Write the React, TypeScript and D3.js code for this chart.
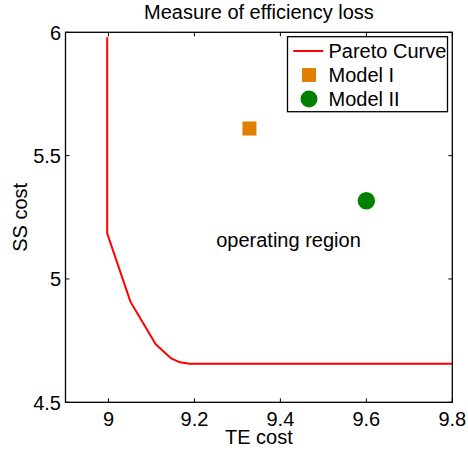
import * as d3 from "d3";

// Pareto curve
const paretoTE = [8.997, 8.997, 9.051, 9.11, 9.146, 9.166, 9.189, 9.8];
const paretoSS = [5.98, 5.185, 4.908, 4.735, 4.678, 4.662, 4.656, 4.656];

// operating points
const modelNames = ["Model I", "Model II"];
const modelTE = [9.328, 9.6];
const modelSS = [5.61, 5.317];

const xTicks = [9, 9.2, 9.4, 9.6, 9.8];
const yTicks = [4.5, 5, 5.5, 6];

const W = 468;
const H = 453;
const font = "'Liberation Sans', Arial, Helvetica, sans-serif";

export default function App() {
  const x = d3.scaleLinear().domain([8.9, 9.8]).range([65.5, 452.3]);
  const y = d3.scaleLinear().domain([4.5, 6]).range([402.3, 32.3]);

  const line = d3
    .line<number>()
    .x((_, i) => x(paretoTE[i]))
    .y((d) => y(d));

  const left = x.range()[0];
  const right = x.range()[1];
  const top = y.range()[1];
  const bottom = y.range()[0];
  const tk = 4;

  const lgX = 287.5;
  const lgY = 36.7;
  const rowY = [51, 75, 99];

  return (
    <div style={{ position: "absolute", left: 0, top: 0 }}>
      <svg width={W} height={H} style={{ display: "block", fontFamily: font }}>
        <rect x={0} y={0} width={W} height={H} fill="#fff" />
        <text x={(left + right) / 2} y={18.5} fontSize={20} textAnchor="middle" fill="#000">
          Measure of efficiency loss
        </text>

        {/* ticks */}
        {xTicks.map((t) => (
          <g key={"x" + t}>
            <line x1={x(t)} x2={x(t)} y1={bottom} y2={bottom - tk} stroke="#000" />
            <line x1={x(t)} x2={x(t)} y1={top} y2={top + tk} stroke="#000" />
            <text x={x(t)} y={425.5} fontSize={20} textAnchor="middle" fill="#000">
              {t}
            </text>
          </g>
        ))}
        {yTicks.map((t) => (
          <g key={"y" + t}>
            <line x1={left} x2={left + tk} y1={y(t)} y2={y(t)} stroke="#000" />
            <line x1={right} x2={right - tk} y1={y(t)} y2={y(t)} stroke="#000" />
            <text x={61} y={y(t)} dy="0.36em" fontSize={20} textAnchor="end" fill="#000">
              {t}
            </text>
          </g>
        ))}

        <text x={(left + right) / 2} y={444} fontSize={20} textAnchor="middle" fill="#000">
          TE cost
        </text>
        <text
          transform={`translate(26.5,${(top + bottom) / 2}) rotate(-90)`}
          fontSize={20}
          textAnchor="middle"
          fill="#000"
        >
          SS cost
        </text>

        {/* data */}
        <path d={line(paretoSS) ?? ""} fill="none" stroke="#ff0000" strokeWidth={2} />
        <rect
          x={x(modelTE[0]) - 7}
          y={y(modelSS[0]) - 7}
          width={14}
          height={14}
          fill="#e07f00"
        />
        <circle cx={x(modelTE[1])} cy={y(modelSS[1])} r={8.7} fill="#008000" />

        <text x={288.5} y={246.5} fontSize={20} textAnchor="middle" fill="#000">
          operating region
        </text>

        {/* box */}
        <rect
          x={left}
          y={top}
          width={right - left}
          height={bottom - top}
          fill="none"
          stroke="#000"
          strokeWidth={1.3}
        />

        {/* legend */}
        <rect x={lgX} y={lgY} width={160} height={75} fill="#fff" stroke="#000" strokeWidth={1.3} />
        <line x1={293.3} x2={323.3} y1={rowY[0]} y2={rowY[0]} stroke="#ff0000" strokeWidth={2} />
        <text x={328.5} y={rowY[0]} dy="0.36em" fontSize={20} fill="#000">
          Pareto Curve
        </text>
        <rect x={302} y={rowY[1] - 7} width={14} height={14} fill="#e07f00" />
        <text x={328.5} y={rowY[1]} dy="0.36em" fontSize={20} fill="#000">
          {modelNames[0]}
        </text>
        <circle cx={309} cy={rowY[2]} r={8.5} fill="#008000" />
        <text x={328.5} y={rowY[2]} dy="0.36em" fontSize={20} fill="#000">
          {modelNames[1]}
        </text>
      </svg>
    </div>
  );
}
